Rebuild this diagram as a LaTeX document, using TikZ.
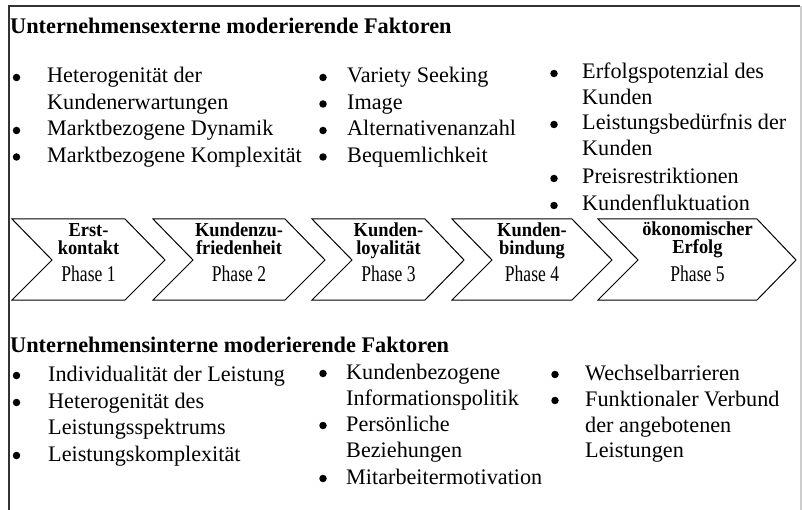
\documentclass[tikz,border=0pt]{standalone}
\usepackage{fontspec}
\setmainfont{Liberation Serif}
\newfontfamily\phasefont[FakeStretch=0.78]{Liberation Serif}
\newfontfamily\titlefont[FakeStretch=0.93]{Liberation Serif}
\usetikzlibrary{positioning}
\definecolor{framedark}{RGB}{51,51,51}
\definecolor{framelight}{RGB}{205,205,205}

\begin{document}
\begin{tikzpicture}[x=1pt, y=-1pt,
    txt/.style={anchor=base west, inner sep=0pt, font=\fontsize{22.2}{26}\selectfont},
    head/.style={anchor=base west, inner sep=0pt, font=\fontsize{22.3}{26}\selectfont\bfseries},
    dot/.style={circle, fill=black, inner sep=0pt, minimum size=7.5pt},
    chev/.style={line width=1pt, line join=miter},
    ctitle/.style={anchor=base, inner sep=0pt, font=\fontsize{19.8}{20}\selectfont\titlefont\bfseries},
    cphase/.style={anchor=base, inner sep=0pt, font=\fontsize{22.5}{24}\selectfont\phasefont}]
    \useasboundingbox (0,0) rectangle (802,510);

    % Frame
    \draw[framedark, line width=2pt] (8.5,510) -- (8.5,6.5) -- (800,6.5);
    \draw[framelight, line width=1.5pt] (801,6) -- (801,510);

    % External factors
    \node[head] (exthead) at (10,34) {Unternehmensexterne moderierende Faktoren};

    \node[dot] (e1) at (16.5,77.5) {};
    \node[txt] (e1a) at (47,83) {Heterogenität der};
    \node[txt] (e1b) at (47,109.5) {Kundenerwartungen};
    \node[dot] (e2) at (16.5,130.5) {};
    \node[txt] (e2a) at (47,136) {Marktbezogene Dynamik};
    \node[dot] (e3) at (16.5,157) {};
    \node[txt] (e3a) at (47,162.5) {Marktbezogene Komplexität};

    \node[dot] (e4) at (323,77.5) {};
    \node[txt] (e4a) at (347,83) {Variety Seeking};
    \node[dot] (e5) at (323,104) {};
    \node[txt] (e5a) at (347,109.5) {Image};
    \node[dot] (e6) at (323,130.5) {};
    \node[txt] (e6a) at (347,136) {Alternativenanzahl};
    \node[dot] (e7) at (323,157) {};
    \node[txt] (e7a) at (347,162.5) {Bequemlichkeit};

    \node[dot] (e8) at (554,73.5) {};
    \node[txt] (e8a) at (582,79) {Erfolgspotenzial des};
    \node[txt] (e8b) at (582,104.5) {Kunden};
    \node[dot] (e9) at (554,124.5) {};
    \node[txt] (e9a) at (582,130) {Leistungsbedürfnis der};
    \node[txt] (e9b) at (582,155.5) {Kunden};
    \node[dot] (e10) at (554,178.5) {};
    \node[txt] (e10a) at (582,184) {Preisrestriktionen};
    \node[dot] (e11) at (554,205.5) {};
    \node[txt] (e11a) at (582,211) {Kundenfluktuation};

    % Phases
    \draw[chev] (12,219) -- (125,219) -- (165,260) -- (125,300) -- (12,300) -- (52,260) -- cycle;
    \node[ctitle] (t1a) at (88.5,237) {Erst-};
    \node[ctitle] (t1b) at (88.5,255) {kontakt};
    \node[cphase] (p1) at (88.5,282) {Phase 1};

    \draw[chev] (153,219) -- (285,219) -- (325,260) -- (285,300) -- (153,300) -- (193,260) -- cycle;
    \node[ctitle] (t2a) at (239,237) {Kundenzu-};
    \node[ctitle] (t2b) at (239,255) {friedenheit};
    \node[cphase] (p2) at (239,282) {Phase 2};

    \draw[chev] (312,219) -- (425,219) -- (464,260) -- (425,300) -- (312,300) -- (352,260) -- cycle;
    \node[ctitle] (t3a) at (388.5,237) {Kunden-};
    \node[ctitle] (t3b) at (388.5,255) {loyalität};
    \node[cphase] (p3) at (388.5,282) {Phase 3};

    \draw[chev] (452,219) -- (572,219) -- (612,260) -- (572,300) -- (452,300) -- (492,260) -- cycle;
    \node[ctitle] (t4a) at (532,237) {Kunden-};
    \node[ctitle] (t4b) at (532,255) {bindung};
    \node[cphase] (p4) at (532,282) {Phase 4};

    \draw[chev] (598,219) -- (757,219) -- (796,260) -- (757,300) -- (598,300) -- (638,260) -- cycle;
    \node[ctitle] (t5a) at (697.5,236) {ökonomischer};
    \node[ctitle] (t5b) at (697.5,254) {Erfolg};
    \node[cphase] (p5) at (697.5,282) {Phase 5};

    % Internal factors
    \node[head] (inthead) at (10,352) {Unternehmensinterne moderierende Faktoren};

    \node[dot] (i1) at (16.5,375.5) {};
    \node[txt] (i1a) at (48,381) {Individualität der Leistung};
    \node[dot] (i2) at (16.5,402.5) {};
    \node[txt] (i2a) at (48,408) {Heterogenität des};
    \node[txt] (i2b) at (48,434) {Leistungsspektrums};
    \node[dot] (i3) at (16.5,455.5) {};
    \node[txt] (i3a) at (48,461) {Leistungskomplexität};

    \node[dot] (i4) at (323,373.5) {};
    \node[txt] (i4a) at (346,379) {Kundenbezogene};
    \node[txt] (i4b) at (346,405) {Informationspolitik};
    \node[dot] (i5) at (323,425.5) {};
    \node[txt] (i5a) at (346,431) {Persönliche};
    \node[txt] (i5b) at (346,457) {Beziehungen};
    \node[dot] (i6) at (323,478.5) {};
    \node[txt] (i6a) at (346,484) {Mitarbeitermotivation};

    \node[dot] (i7) at (555,374.5) {};
    \node[txt] (i7a) at (585,380) {Wechselbarrieren};
    \node[dot] (i8) at (555,400.5) {};
    \node[txt] (i8a) at (585,406) {Funktionaler Verbund};
    \node[txt] (i8b) at (585,432) {der angebotenen};
    \node[txt] (i8c) at (585,457) {Leistungen};
\end{tikzpicture}
\end{document}
